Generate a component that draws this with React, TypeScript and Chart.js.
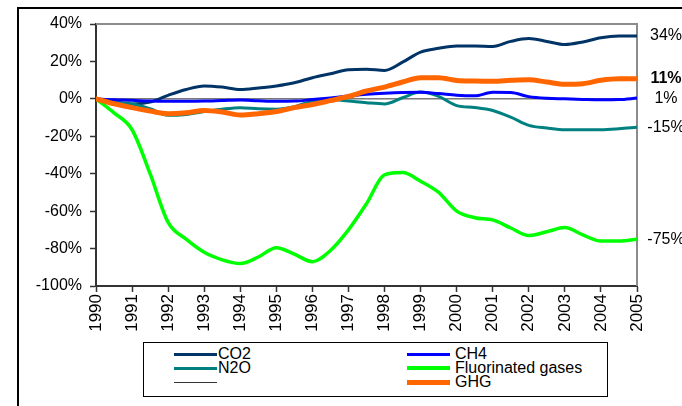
import React, { useEffect, useRef } from "react";
import { Chart, registerables } from "chart.js";

Chart.register(...registerables);

const years = [
  1990, 1990.5, 1991, 1991.5, 1992, 1992.5, 1993, 1993.5, 1994, 1994.5, 1995,
  1995.5, 1996, 1996.5, 1997, 1997.5, 1998, 1998.5, 1999, 1999.5, 2000,
  2000.5, 2001, 2001.5, 2002, 2002.5, 2003, 2003.5, 2004, 2004.5, 2005,
];

const co2 = [
  0, -1.7, -2.8, -1.7, 1.9, 5.0, 6.9, 6.3, 5.0, 5.8, 6.9,
  8.6, 11.3, 13.4, 15.5, 15.8, 15.2, 19.6, 25.0, 27.0, 28.2,
  28.2, 28.0, 30.7, 32.2, 30.7, 29.0, 30.4, 32.7, 33.6, 33.6,
];
const ch4 = [
  0, -0.5, -0.8, -1.2, -1.3, -1.3, -1.2, -0.9, -0.6, -1.0, -1.3,
  -1.2, -0.4, 0.5, 1.5, 2.4, 3.0, 3.4, 3.5, 2.8, 1.9,
  1.6, 3.5, 3.4, 1.2, 0.3, 0.0, -0.3, -0.5, -0.4, 0.4,
];
const n2o = [
  0, -1.7, -2.6, -5.3, -8.8, -8.3, -6.8, -5.5, -4.7, -5.3, -5.5,
  -4.2, -1.2, -0.4, -1.2, -2.1, -2.7, 0.6, 3.6, 1.3, -3.6,
  -4.6, -6.2, -9.8, -14.2, -15.6, -16.5, -16.5, -16.5, -16.0, -15.2,
];
const fgases = [
  0, -7.5, -16.5, -40, -66, -75, -82, -86, -88, -84.5, -79.5,
  -83, -87, -81, -70, -56, -40.6, -39.4, -44, -50, -60,
  -63.5, -64.7, -69, -73, -71, -68.8, -72.7, -76, -76, -75,
];
const ghg = [
  0, -2.6, -4.7, -6.5, -7.9, -7.4, -6.2, -7.0, -8.6, -7.9, -6.8,
  -4.7, -3.0, -0.9, 1.3, 4.2, 6.3, 9.0, 11.3, 11.3, 9.8,
  9.5, 9.4, 9.9, 10.2, 9.0, 7.8, 8.1, 9.9, 10.7, 10.7,
];
const zeroYears = [1990, 2005];
const zeroLine = [0, 0];

const seriesLabels = ["CO2", "CH4", "N2O", "Fluorinated gases", "", "GHG"];
const seriesColors = ["#003366", "#0000ff", "#008080", "#00ff00", "#333333", "#ff6600"];
const seriesWidths = [3, 3, 3, 3.5, 1, 5];
const endLabels = ["34%", "1%", "-15%", "-75%", "", "11%"];
const endBold = [false, false, false, false, false, true];
const drawOrder = [4, 2, 3, 1, 5, 0];

const yMin = -100;
const yMax = 40;
const yStep = 20;
const xMin = 1990;
const xMax = 2005;

const FONT = "'Liberation Sans', Arial, sans-serif";

export default function App() {
  const ref = useRef<HTMLCanvasElement>(null);

  useEffect(() => {
    if (!ref.current) return;
    const valueSets = [co2, ch4, n2o, fgases, zeroLine, ghg];
    const datasets = valueSets.map((vals, i) => {
      const xs = vals === zeroLine ? zeroYears : years;
      return {
        label: seriesLabels[i],
        data: vals.map((v, j) => ({ x: xs[j], y: v })),
        borderColor: seriesColors[i],
        backgroundColor: seriesColors[i],
        borderWidth: seriesWidths[i],
        pointRadius: 0,
        cubicInterpolationMode: "monotone" as const,
        borderJoinStyle: "round" as const,
        borderCapStyle: "round" as const,
        fill: false,
        order: drawOrder[i],
        endLabel: endLabels[i],
        endBold: endBold[i],
      };
    });

    const framePlugin = {
      id: "frame",
      beforeDatasetsDraw(chart: any) {
        const { ctx, chartArea } = chart;
        ctx.save();
        ctx.strokeStyle = "#8c8c8c";
        ctx.lineWidth = 2;
        ctx.beginPath();
        ctx.moveTo(chartArea.left, chartArea.top);
        ctx.lineTo(chartArea.right, chartArea.top);
        ctx.lineTo(chartArea.right, chartArea.bottom);
        ctx.stroke();
        ctx.restore();
      },
    };

    const endLabelPlugin = {
      id: "endLabels",
      afterDatasetsDraw(chart: any) {
        const { ctx, chartArea } = chart;
        const yScale = chart.scales.y;
        chart.data.datasets.forEach((ds: any) => {
          if (!ds.endLabel) return;
          const last = ds.data[ds.data.length - 1];
          ctx.save();
          ctx.font = `${ds.endBold ? "bold " : ""}16px ${FONT}`;
          ctx.fillStyle = "#000";
          ctx.textAlign = "center";
          ctx.textBaseline = "middle";
          ctx.fillText(ds.endLabel, chartArea.right + 29, yScale.getPixelForValue(last.y));
          ctx.restore();
        });
      },
    };

    const chart = new Chart(ref.current, {
      type: "line",
      data: { datasets: datasets as any },
      options: {
        animation: false,
        responsive: false,
        devicePixelRatio: 1,
        layout: { padding: { top: 24, right: 45, left: 0, bottom: 0 } },
        plugins: { legend: { display: false }, tooltip: { enabled: false } },
        scales: {
          x: {
            type: "linear",
            min: xMin,
            max: xMax,
            afterFit(scale: any) {
              scale.height = 120;
            },
            ticks: {
              stepSize: 1,
              autoSkip: false,
              minRotation: 90,
              maxRotation: 90,
              padding: 2,
              color: "#000",
              font: { family: FONT, size: 17 },
              callback: (v: any) => String(v),
            },
            grid: {
              drawOnChartArea: false,
              drawTicks: true,
              tickLength: 6,
              tickColor: "#333",
              tickWidth: 1.5,
            },
            border: { display: true, color: "#333", width: 2 },
          },
          y: {
            min: yMin,
            max: yMax,
            afterFit(scale: any) {
              scale.width = 96;
            },
            ticks: {
              stepSize: yStep,
              padding: 8,
              color: "#000",
              font: { family: FONT, size: 16 },
              callback: (v: any) => `${v}%`,
            },
            grid: {
              drawOnChartArea: false,
              drawTicks: true,
              tickLength: 6,
              tickColor: "#333",
              tickWidth: 1.5,
            },
            border: { display: true, color: "#333", width: 2 },
          },
        },
      },
      plugins: [framePlugin, endLabelPlugin],
    });
    return () => chart.destroy();
  }, []);

  const legendItems = seriesLabels.map((label, i) => {
    const col = i % 2;
    const row = Math.floor(i / 2);
    const lineLeft = col === 0 ? 30 : 263;
    const textLeft = col === 0 ? 74 : 311;
    const cy = 11 + row * 14;
    return (
      <React.Fragment key={i}>
        <div
          style={{
            position: "absolute",
            left: lineLeft,
            top: cy - seriesWidths[i] / 2,
            width: 43,
            height: seriesWidths[i],
            background: seriesColors[i],
          }}
        />
        <div
          style={{
            position: "absolute",
            left: textLeft,
            top: cy - 9,
            height: 18,
            lineHeight: "18px",
            fontSize: 16,
            fontFamily: FONT,
            color: "#000",
            whiteSpace: "nowrap",
          }}
        >
          {label}
        </div>
      </React.Fragment>
    );
  });

  return (
    <div
      style={{
        position: "fixed",
        left: 0,
        top: 0,
        width: 682,
        height: 406,
        background: "#fff",
        overflow: "hidden",
      }}
    >
      <canvas
        ref={ref}
        width={682}
        height={406}
        style={{ position: "absolute", left: 0, top: 0, width: 682, height: 406 }}
      />
      <div
        style={{
          position: "absolute",
          left: 17,
          top: 7,
          width: 665,
          height: 399,
          borderTop: "2px solid #000",
          borderLeft: "2px solid #000",
          boxSizing: "border-box",
          pointerEvents: "none",
        }}
      />
      <div
        style={{
          position: "absolute",
          left: 143,
          top: 342,
          width: 465,
          height: 55,
          border: "1px solid #000",
          boxSizing: "border-box",
          background: "#fff",
        }}
      >
        {legendItems}
      </div>
    </div>
  );
}
